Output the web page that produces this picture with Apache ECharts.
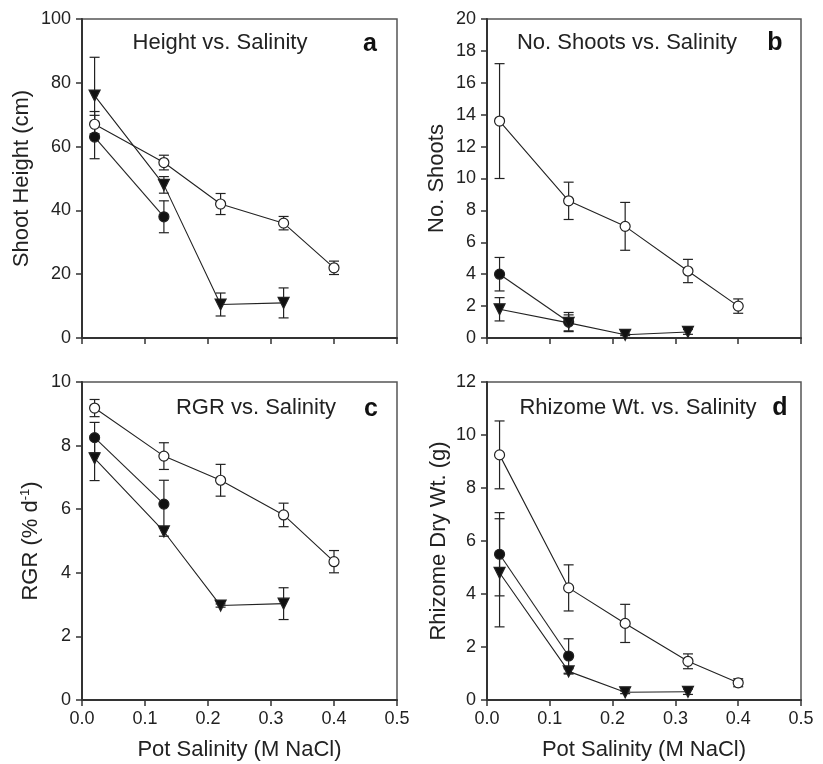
<!DOCTYPE html>
<html>
<head>
<meta charset="utf-8">
<script src="https://cdn.jsdelivr.net/npm/echarts@6/dist/echarts.min.js"></script>
<style>
html,body{margin:0;padding:0;background:#fff;}
#chart{width:823px;height:764px;}
</style>
</head>
<body>
<div id="chart"></div>
<script>
// ---- Data ----
const salinity = [0.02, 0.13, 0.22, 0.32, 0.40];
const xTicks = [0, 0.1, 0.2, 0.3, 0.4, 0.5];

// Panel a: Shoot height (cm)
const heightOpen = [67, 55, 42, 36, 22];
const heightOpenErr = [4, 2.3, 3.3, 2.1, 2.1];
const heightFilled = [63, 38];
const heightFilledErr = [6.8, 5];
const heightTri = [76, 48, 10.5, 11];
const heightTriErr = [12, 2.6, 3.6, 4.7];

// Panel b: No. shoots
const shootsOpen = [13.6, 8.6, 7.0, 4.2, 2.0];
const shootsOpenErr = [3.6, 1.17, 1.5, 0.73, 0.45];
const shootsFilled = [4.0, 1.0];
const shootsFilledErr = [1.05, 0.6];
const shootsTri = [1.8, 0.95, 0.2, 0.38];
const shootsTriErr = [0.73, 0.5, 0.05, 0.15];

// Panel c: RGR (% d-1)
const rgrOpen = [9.18, 7.67, 6.91, 5.82, 4.35];
const rgrOpenErr = [0.27, 0.42, 0.5, 0.37, 0.35];
const rgrFilled = [8.25, 6.16];
const rgrFilledErr = [0.48, 0.75];
const rgrTri = [7.6, 5.3, 2.97, 3.03];
const rgrTriErr = [0.7, 0.15, 0.05, 0.5];

// Panel d: Rhizome dry wt (g)
const rhizOpen = [9.25, 4.23, 2.89, 1.46, 0.65];
const rhizOpenErr = [1.28, 0.87, 0.72, 0.28, 0.15];
const rhizFilled = [5.5, 1.66];
const rhizFilledErr = [1.57, 0.65];
const rhizTri = [4.8, 1.08, 0.29, 0.31];
const rhizTriErr = [2.04, 0.1, 0.05, 0.1];

const panelTitles = ['Height vs. Salinity', 'No. Shoots vs. Salinity', 'RGR vs. Salinity', 'Rhizome Wt. vs. Salinity'];
const panelLetters = ['a', 'b', 'c', 'd'];
const yNames = ['Shoot Height (cm)', 'No. Shoots', 'RGR (% d{sup|-1})', 'Rhizome Dry Wt. (g)'];
const yMax = [100, 20, 10, 12];
const yInterval = [20, 2, 2, 2];
const xName = 'Pot Salinity (M NaCl)';

// ---- Styling ----
const FONT = '"Liberation Sans", Arial, Helvetica, sans-serif';
const INK = '#222';

const grids = [
  {left: 82, top: 19, width: 315, height: 319},
  {left: 487, top: 19, width: 314, height: 319},
  {left: 82, top: 382, width: 315, height: 318},
  {left: 487, top: 382, width: 314, height: 318}
];
const yNameGaps = [49, 39, 40, 37];

function pairs(xs, ys) { return ys.map((v, i) => [xs[i], v]); }
function errPairs(xs, ys, es) { return ys.map((v, i) => [xs[i], v - es[i], v + es[i]]); }

function errRender(params, api) {
  const x = api.value(0), lo = api.value(1), hi = api.value(2);
  const a = api.coord([x, hi]);
  const b = api.coord([x, lo]);
  const w = 5;
  const st = {stroke: INK, lineWidth: 1.2};
  return {
    type: 'group',
    children: [
      {type: 'line', shape: {x1: a[0], y1: a[1], x2: b[0], y2: b[1]}, style: st},
      {type: 'line', shape: {x1: a[0] - w, y1: a[1], x2: a[0] + w, y2: a[1]}, style: st},
      {type: 'line', shape: {x1: b[0] - w, y1: b[1], x2: b[0] + w, y2: b[1]}, style: st}
    ]
  };
}

const panels = [
  {open: heightOpen, openErr: heightOpenErr, filled: heightFilled, filledErr: heightFilledErr, tri: heightTri, triErr: heightTriErr},
  {open: shootsOpen, openErr: shootsOpenErr, filled: shootsFilled, filledErr: shootsFilledErr, tri: shootsTri, triErr: shootsTriErr},
  {open: rgrOpen, openErr: rgrOpenErr, filled: rgrFilled, filledErr: rgrFilledErr, tri: rgrTri, triErr: rgrTriErr},
  {open: rhizOpen, openErr: rhizOpenErr, filled: rhizFilled, filledErr: rhizFilledErr, tri: rhizTri, triErr: rhizTriErr}
];

const xAxes = [], yAxes = [], series = [];
grids.forEach((g, i) => {
  const bottomRow = i >= 2;
  xAxes.push({
    gridIndex: i, type: 'value', min: 0, max: 0.5, interval: 0.1,
    name: bottomRow ? xName : '', nameLocation: 'middle', nameGap: 39,
    nameTextStyle: {fontFamily: FONT, fontSize: 22, color: INK},
    axisLine: {show: true, onZero: false, lineStyle: {color: '#333', width: 2}},
    axisTick: {show: true, inside: false, length: 6, lineStyle: {color: '#333', width: 1.5}},
    axisLabel: {show: bottomRow, margin: 10, fontFamily: FONT, fontSize: 18, color: INK,
      formatter: v => v.toFixed(1)},
    splitLine: {show: false}
  });
  yAxes.push({
    gridIndex: i, type: 'value', min: 0, max: yMax[i], interval: yInterval[i],
    name: yNames[i], nameLocation: 'middle', nameGap: yNameGaps[i],
    nameTextStyle: {fontFamily: FONT, fontSize: 22, color: INK,
      rich: {sup: {fontFamily: FONT, fontSize: 13, color: INK, verticalAlign: 'top', padding: [0, 0, 10, 0]}}},
    axisLine: {show: true, lineStyle: {color: '#333', width: 2}},
    axisTick: {show: true, inside: false, length: 6, lineStyle: {color: '#333', width: 1.5}},
    axisLabel: {margin: 11, fontFamily: FONT, fontSize: 18, color: INK},
    splitLine: {show: false}
  });
  const p = panels[i];
  const groups = [
    {vals: p.open, errs: p.openErr, symbol: 'circle', size: 10, fill: '#fff', rot: 0},
    {vals: p.filled, errs: p.filledErr, symbol: 'circle', size: 10, fill: '#111', rot: 0},
    {vals: p.tri, errs: p.triErr, symbol: 'triangle', size: 11, fill: '#111', rot: 180}
  ];
  groups.forEach(gr => {
    series.push({
      type: 'custom', xAxisIndex: i, yAxisIndex: i,
      renderItem: errRender, encode: {x: 0, y: [1, 2]},
      data: errPairs(salinity, gr.vals, gr.errs), z: 2, silent: true
    });
  });
  groups.forEach(gr => {
    series.push({
      type: 'line', xAxisIndex: i, yAxisIndex: i,
      data: pairs(salinity, gr.vals),
      symbol: gr.symbol, symbolSize: gr.size, symbolRotate: gr.rot,
      showSymbol: true,
      lineStyle: {color: INK, width: 1.1},
      itemStyle: {color: gr.fill, borderColor: INK, borderWidth: 1.2},
      z: 3, silent: true, animation: false
    });
  });
});

const titlePos = [[220, 43], [627, 43], [256, 408], [638, 408]];
const letterPos = [[370, 44], [775, 43], [371, 409], [780, 408]];
const graphics = [];
panelTitles.forEach((t, i) => {
  graphics.push({type: 'text', x: titlePos[i][0], y: titlePos[i][1], z: 10,
    style: {text: t, fontFamily: FONT, fontSize: 22, fill: INK, textAlign: 'center', textVerticalAlign: 'middle'}});
  graphics.push({type: 'text', x: letterPos[i][0], y: letterPos[i][1], z: 10,
    style: {text: panelLetters[i], fontFamily: FONT, fontSize: 25, fontWeight: 'bold', fill: '#111', textAlign: 'center', textVerticalAlign: 'middle'}});
});

const chart = echarts.init(document.getElementById('chart'), null, {renderer: 'canvas'});
chart.setOption({
  animation: false,
  backgroundColor: '#fff',
  grid: grids.map(g => Object.assign({show: true, borderColor: '#555', borderWidth: 1.5, backgroundColor: 'transparent'}, g)),
  xAxis: xAxes,
  yAxis: yAxes,
  series: series,
  graphic: graphics
});
</script>
</body>
</html>
